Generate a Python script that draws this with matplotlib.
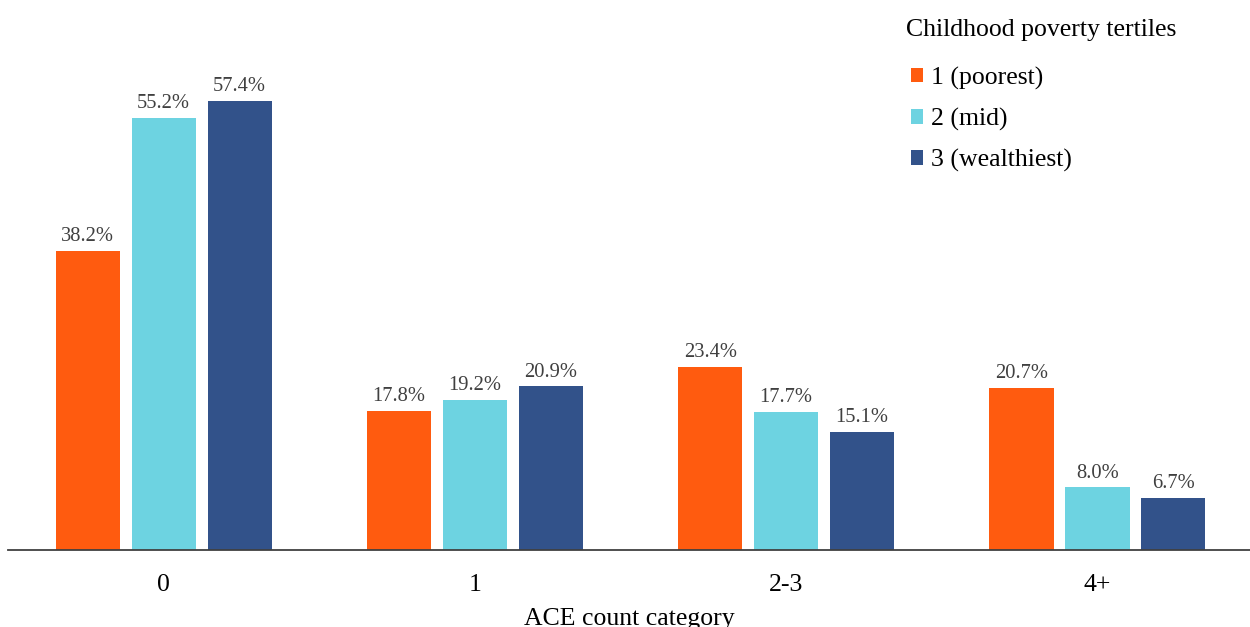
import numpy as np
import matplotlib
matplotlib.use("Agg")
import matplotlib.pyplot as plt

plt.rcParams['font.family'] = ['Liberation Serif', 'DejaVu Serif']

# ACE count categories and share of each poverty tertile (%)
categories = ["0", "1", "2-3", "4+"]
series_names = ["1 (poorest)", "2 (mid)", "3 (wealthiest)"]
poorest = [38.2, 17.8, 23.4, 20.7]
mid = [55.2, 19.2, 17.7, 8.0]
wealthiest = [57.4, 20.9, 15.1, 6.7]
colors = ["#FF5B0F", "#6DD3E1", "#32528A"]

fig = plt.figure(figsize=(12.5, 6.27), dpi=100)
ax = fig.add_axes([8 / 1250, 77 / 627, 1242 / 1250, 550 / 627])

x = np.arange(len(categories))
width = 0.206
offsets = [-0.244, 0, 0.244]

for vals, off, col, name in zip([poorest, mid, wealthiest], offsets, colors, series_names):
    bars = ax.bar(x + off, vals, width, color=col, label=name)
    for b, v in zip(bars, vals):
        ax.annotate(f"{v:.1f}%", (b.get_x() + b.get_width() / 2, v),
                    xytext=(0, 3.5), textcoords="offset points",
                    ha="center", va="bottom", fontsize=14.8, color="#404040")

ax.set_xlim(-0.5, 3.49)
ax.set_ylim(0, 70.3)
ax.set_xticks(x)
ax.set_xticklabels(categories, fontsize=18.5)
ax.tick_params(axis="x", length=0, pad=17)
ax.set_yticks([])
for s in ["top", "right", "left"]:
    ax.spines[s].set_visible(False)
ax.spines["bottom"].set_color("#404040")
ax.spines["bottom"].set_linewidth(1.3)
ax.set_xlabel("ACE count category", fontsize=18.5, labelpad=9)

# legend title drawn separately so the gap below it can be set freely
fig.text(906 / 1250, 1 - 30 / 627, "Childhood poverty tertiles",
         fontsize=18.5, ha="left", va="center")
leg = ax.legend(loc="upper left", bbox_to_anchor=(898 / 1250, 1 - 54 / 627),
                bbox_transform=fig.transFigure, frameon=False,
                fontsize=18.5, handlelength=0.47, handleheight=0.47,
                handletextpad=0.3, labelspacing=0.7, borderpad=0)

fig.savefig("out.png", dpi=100)
